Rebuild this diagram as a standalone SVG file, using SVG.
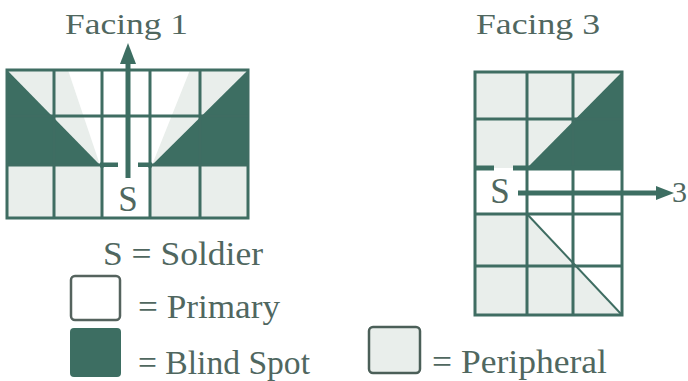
<svg xmlns="http://www.w3.org/2000/svg" width="688" height="381" viewBox="0 0 688 381">
<defs>
<style>
.t{font-family:"Liberation Serif","DejaVu Serif",serif;fill:#50675f;}
.g{fill:none;stroke:#3f6d62;stroke-width:3;}
.b{fill:#3d6e62;}
.p{fill:#e9eeeb;}
.w{fill:#ffffff;}
.stub{stroke:#3d6e62;stroke-width:5;}
</style>
</defs>
<rect width="688" height="381" fill="#ffffff"/>

<g id="facing1">
<text class="t" x="65" y="34" font-size="30" textLength="123" lengthAdjust="spacingAndGlyphs">Facing  1</text>
<rect class="w" x="7" y="70" width="241" height="148"/>
<polygon class="p" points="7,70 68,70 100,165"/>
<polygon class="p" points="248,70 190,70 152,165"/>
<rect class="p" x="7" y="165" width="95" height="53"/>
<rect class="p" x="150" y="165" width="98" height="53"/>
<polygon class="b" points="7,70 100,165 7,165"/>
<polygon class="b" points="248,70 152,165 248,165"/>
<g class="g">
<rect x="7" y="70" width="241" height="148"/>
<line x1="54" y1="70" x2="54" y2="218"/>
<line x1="102" y1="70" x2="102" y2="218"/>
<line x1="150" y1="70" x2="150" y2="218"/>
<line x1="200" y1="70" x2="200" y2="218"/>
<line x1="7" y1="116" x2="248" y2="116"/>
<line x1="7" y1="165" x2="118" y2="165"/>
<line x1="138" y1="165" x2="248" y2="165"/>
</g>
<line class="stub" x1="100" y1="165" x2="118" y2="165"/>
<line class="stub" x1="138" y1="165" x2="152" y2="165"/>
<rect class="w" x="104" y="167" width="44" height="49"/>
<text class="t" x="128" y="211" font-size="35" text-anchor="middle">S</text>
</g>

<g id="facing3">
<text class="t" x="476" y="34" font-size="30" textLength="124" lengthAdjust="spacingAndGlyphs">Facing  3</text>
<rect class="p" x="475" y="72" width="147" height="96"/>
<rect class="w" x="475" y="168" width="147" height="147"/>
<polygon class="p" points="475,214 527,214 622,315 475,315"/>
<polygon class="b" points="527,168 622,72 622,168"/>
<g class="g">
<rect x="475" y="72" width="147" height="243"/>
<line x1="527" y1="72" x2="527" y2="315"/>
<line x1="573" y1="72" x2="573" y2="315"/>
<line x1="475" y1="119" x2="622" y2="119"/>
<line x1="475" y1="214" x2="622" y2="214"/>
<line x1="475" y1="266" x2="622" y2="266"/>
<line x1="527" y1="214" x2="622" y2="315" stroke-width="2"/>
</g>
<line class="stub" x1="475" y1="168" x2="494" y2="168" stroke-width="6"/>
<line class="stub" x1="513" y1="168" x2="622" y2="168" stroke-width="5"/>
<rect class="w" x="477" y="171" width="48" height="41"/>
<text class="t" x="500" y="203" font-size="35" text-anchor="middle">S</text>
<text class="t" x="672" y="202" font-size="30">3</text>
</g>

<g id="connectors">
<line x1="128" y1="178" x2="128" y2="60" stroke="#3d6e62" stroke-width="5"/>
<polygon points="128,43 120,64 136,64" fill="#3d6e62"/>
<line x1="518" y1="193" x2="659" y2="193" stroke="#3d6e62" stroke-width="5"/>
<polygon points="674,193 656,186 656,200" fill="#3d6e62"/>
</g>

<g id="legend">
<text class="t" x="103" y="265" font-size="34" textLength="160" lengthAdjust="spacingAndGlyphs">S = Soldier</text>
<rect x="71" y="276" width="49" height="44" rx="4" fill="#ffffff" stroke="#55635e" stroke-width="2.5"/>
<text class="t" x="138" y="318" font-size="34" textLength="142" lengthAdjust="spacingAndGlyphs">= Primary</text>
<rect x="70" y="328" width="51" height="49" rx="4" class="b"/>
<text class="t" x="138" y="374" font-size="34" textLength="172" lengthAdjust="spacingAndGlyphs">= Blind Spot</text>
<rect x="369" y="327" width="51" height="46" rx="4" fill="#e9eeeb" stroke="#4b5f58" stroke-width="2.5"/>
<text class="t" x="432" y="373" font-size="34" textLength="175" lengthAdjust="spacingAndGlyphs">= Peripheral</text>
</g>
</svg>
